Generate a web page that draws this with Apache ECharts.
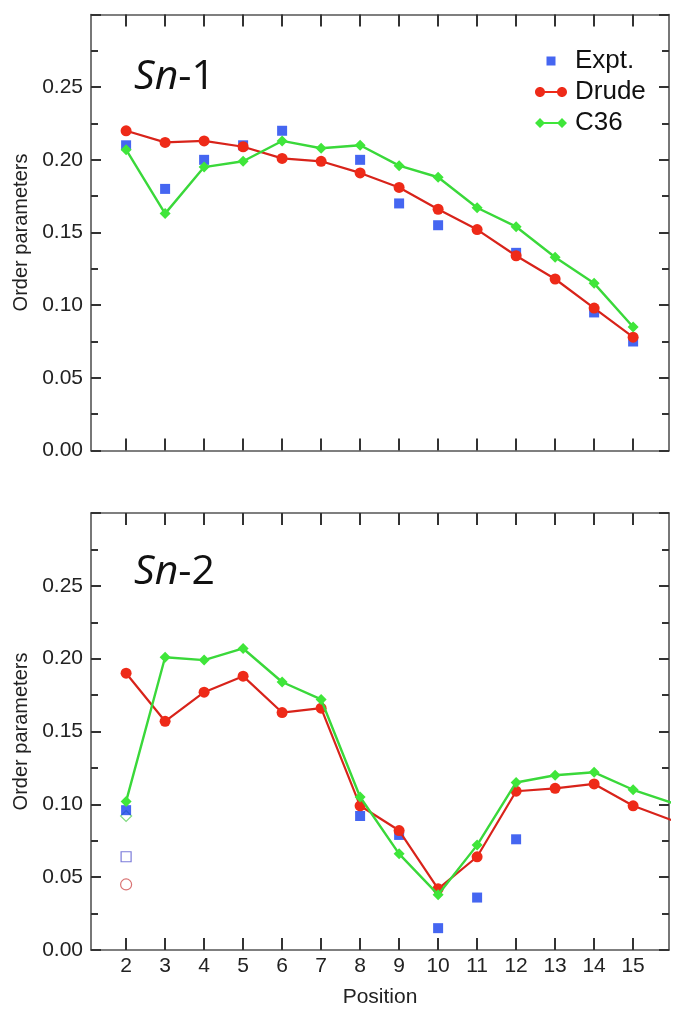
<!DOCTYPE html>
<html>
<head>
<meta charset="utf-8">
<script src="https://cdn.jsdelivr.net/npm/echarts@6/dist/echarts.min.js"></script>
<style>
html,body{margin:0;padding:0;background:#fff;}
#chart{width:698px;height:1022px;}
</style>
</head>
<body>
<div id="chart"></div>
<script>
// ---- data ----
const positions = [2, 3, 4, 5, 6, 7, 8, 9, 10, 11, 12, 13, 14, 15];
const tickPositions = [2, 3, 4, 5, 6, 7, 8, 9, 10, 11, 12, 13, 14, 15];
const yTickLabels = ['0.00', '0.05', '0.10', '0.15', '0.20', '0.25'];

const sn1Expt  = [0.210, 0.180, 0.200, 0.210, 0.220, null, 0.200, 0.170, 0.155, null, 0.136, null, 0.095, 0.075];
const sn1Drude = [0.220, 0.212, 0.213, 0.209, 0.201, 0.199, 0.191, 0.181, 0.166, 0.152, 0.134, 0.118, 0.098, 0.078];
const sn1C36   = [0.207, 0.163, 0.195, 0.199, 0.213, 0.208, 0.210, 0.196, 0.188, 0.167, 0.154, 0.133, 0.115, 0.085];

const sn2Positions = [2, 3, 4, 5, 6, 7, 8, 9, 10, 11, 12, 13, 14, 15, 16];
const sn2Expt  = [0.096, null, null, null, null, null, 0.092, 0.079, 0.015, 0.036, 0.076, null, null, null, null];
const sn2Drude = [0.190, 0.157, 0.177, 0.188, 0.163, 0.166, 0.099, 0.082, 0.042, 0.064, 0.109, 0.111, 0.114, 0.099, 0.089];
const sn2C36   = [0.102, 0.201, 0.199, 0.207, 0.184, 0.172, 0.105, 0.066, 0.038, 0.072, 0.115, 0.120, 0.122, 0.110, 0.101];

// open symbols at position 2 (Sn-2)
const sn2OpenPos = [2];
const sn2OpenExpt  = [0.064];
const sn2OpenDrude = [0.045];
const sn2OpenC36   = [0.092];

// ---- helpers ----
function pairs(xs, ys) {
  const out = [];
  xs.forEach((x, i) => { if (ys[i] !== null && ys[i] !== undefined) out.push([x, ys[i]]); });
  return out;
}

const BLUE = '#1640ee';
const RED = '#ee2a18';
const RED_LINE = '#d8231a';
const GREEN = '#3fe63a';
const GREEN_LINE = '#3ad83a';
const AXIS = '#555';
const TICK = '#333';
const FONT = 'Liberation Sans';

const chart = echarts.init(document.getElementById('chart'), null, {renderer: 'canvas'});

function xAxes(gridIndex, showLabels) {
  const base = {
    type: 'value', gridIndex: gridIndex, min: 1.1, max: 15.92,
    splitLine: {show: false},
    axisLine: {show: true, onZero: false, lineStyle: {color: AXIS, width: 1.6}},
    axisTick: {show: true, inside: true, length: 12, customValues: tickPositions,
               lineStyle: {color: TICK, width: 2}},
  };
  const bottom = Object.assign({}, base, {
    position: 'bottom',
    axisLabel: showLabels ? {show: true, customValues: tickPositions, fontFamily: FONT,
               fontSize: 21, color: '#222', margin: 6} : {show: false},
    name: showLabels ? 'Position' : '',
    nameLocation: 'middle', nameGap: 37,
    nameTextStyle: {fontFamily: FONT, fontSize: 21, color: '#222'}
  });
  const top = Object.assign({}, base, {position: 'top', axisLabel: {show: false}});
  return [bottom, top];
}

function yAxes(gridIndex) {
  const base = {
    type: 'value', gridIndex: gridIndex, min: 0, max: 0.30, interval: 0.05,
    splitLine: {show: false},
    axisLine: {show: true, onZero: false, lineStyle: {color: AXIS, width: 1.6}},
    axisTick: {show: true, inside: true, length: 10, lineStyle: {color: TICK, width: 2}},
    minorTick: {show: true, splitNumber: 2, length: 7, lineStyle: {color: TICK, width: 2}},
  };
  const left = Object.assign({}, base, {
    position: 'left',
    axisLabel: {show: true, fontFamily: FONT, fontSize: 21, color: '#222', margin: 8,
      formatter: v => {
        const idx = Math.round(v / 0.05);
        return yTickLabels[idx] !== undefined ? yTickLabels[idx] : '';
      }},
    name: 'Order parameters', nameLocation: 'middle', nameGap: 56,
    nameTextStyle: {fontFamily: FONT, fontSize: 20, color: '#222'}
  });
  const right = Object.assign({}, base, {position: 'right', axisLabel: {show: false}});
  return [left, right];
}

const xa = xAxes(0, false).concat(xAxes(1, true));
const ya = yAxes(0).concat(yAxes(1));

function exptSeries(xIdx, yIdx, data) {
  return {name: 'Expt.', type: 'scatter', xAxisIndex: xIdx, yAxisIndex: yIdx,
    symbol: 'rect', symbolSize: 10, itemStyle: {color: BLUE}, data: data, z: 2};
}
function drudeSeries(xIdx, yIdx, data) {
  return {name: 'Drude', type: 'line', xAxisIndex: xIdx, yAxisIndex: yIdx,
    symbol: 'circle', symbolSize: 11, showAllSymbol: true, clip: true,
    itemStyle: {color: RED}, lineStyle: {color: RED_LINE, width: 2.2}, data: data, z: 3};
}
function c36Series(xIdx, yIdx, data) {
  return {name: 'C36', type: 'line', xAxisIndex: xIdx, yAxisIndex: yIdx,
    symbol: 'diamond', symbolSize: [11, 11], showAllSymbol: true, clip: true,
    itemStyle: {color: GREEN}, lineStyle: {color: GREEN_LINE, width: 2.4}, data: data, z: 4};
}

const circ = (cx) => `M${cx-5},5C${cx-5},2.24 ${cx-2.76},0 ${cx},0C${cx+2.76},0 ${cx+5},2.24 ${cx+5},5C${cx+5},7.76 ${cx+2.76},10 ${cx},10C${cx-2.76},10 ${cx-5},7.76 ${cx-5},5Z`;

const option = {
  animation: false,
  backgroundColor: '#fff',
  grid: [
    {left: 91, width: 578, top: 14.5, height: 436},
    {left: 91, width: 578, top: 513, height: 437}
  ],
  xAxis: xa,
  yAxis: ya,
  legend: {
    orient: 'vertical', left: 535, top: 48, padding: 0, itemGap: 5,
    itemWidth: 32, itemHeight: 10, selectedMode: false,
    textStyle: {fontFamily: FONT, fontSize: 26, color: '#111', padding: [0, 0, 0, 3]},
    data: [
      {name: 'Expt.', icon: 'path://M0,0L0.01,0Z M32,10L31.99,10Z M11.5,0.5H20.5V9.5H11.5Z'},
      {name: 'Drude', icon: 'path://' + circ(5) + ' ' + circ(27) + ' M5,4H27V6H5Z'},
      {name: 'C36', icon: 'path://M0,5L5,0L10,5L5,10Z M22,5L27,0L32,5L27,10Z M5,3.9H27V6.1H5Z'}
    ]
  },
  graphic: [
    {type: 'text', left: 134, top: 57, z: 10,
     style: {text: '{i|Sn}{n|-1}', rich: {
       i: {fontFamily: 'Open Sans', fontStyle: 'italic', fontSize: 41, fill: '#111'},
       n: {fontFamily: 'Open Sans', fontSize: 41, fill: '#111'}}}},
    {type: 'text', left: 134, top: 552, z: 10,
     style: {text: '{i|Sn}{n|-2}', rich: {
       i: {fontFamily: 'Open Sans', fontStyle: 'italic', fontSize: 41, fill: '#111'},
       n: {fontFamily: 'Open Sans', fontSize: 41, fill: '#111'}}}}
  ],
  series: [
    exptSeries(0, 0, pairs(positions, sn1Expt)),
    drudeSeries(0, 0, pairs(positions, sn1Drude)),
    c36Series(0, 0, pairs(positions, sn1C36)),
    exptSeries(2, 2, pairs(sn2Positions, sn2Expt)),
    drudeSeries(2, 2, pairs(sn2Positions, sn2Drude)),
    c36Series(2, 2, pairs(sn2Positions, sn2C36)),
    {type: 'scatter', xAxisIndex: 2, yAxisIndex: 2, symbol: 'rect', symbolSize: 10,
     itemStyle: {color: 'rgba(0,0,0,0)', borderColor: '#5a5ad0', borderWidth: 1.2},
     data: pairs(sn2OpenPos, sn2OpenExpt), z: 2},
    {type: 'scatter', xAxisIndex: 2, yAxisIndex: 2, symbol: 'circle', symbolSize: 11,
     itemStyle: {color: 'rgba(0,0,0,0)', borderColor: '#d05050', borderWidth: 1.2},
     data: pairs(sn2OpenPos, sn2OpenDrude), z: 2},
    {type: 'scatter', xAxisIndex: 2, yAxisIndex: 2, symbol: 'diamond', symbolSize: 11,
     itemStyle: {color: 'rgba(0,0,0,0)', borderColor: '#60d060', borderWidth: 1.2},
     data: pairs(sn2OpenPos, sn2OpenC36), z: 1}
  ]
};

chart.setOption(option);
</script>
</body>
</html>
